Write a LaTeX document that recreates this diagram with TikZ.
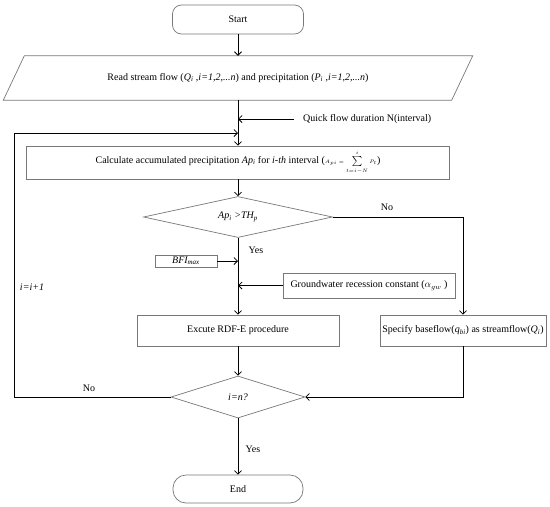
\documentclass[tikz,border=0pt]{standalone}
\usepackage{fontspec}
\setmainfont{Liberation Serif}
\usetikzlibrary{arrows.meta,shapes.geometric,calc}
\definecolor{boxgray}{RGB}{120,120,120}
\newcommand{\ssub}[1]{\textsubscript{#1}}
\begin{document}
\begin{tikzpicture}[x=1pt,y=-1pt,
  txt/.style={font=\fontsize{10}{12}\selectfont},
  box/.style={txt,draw=boxgray,line width=0.7pt,rectangle,inner sep=0pt,align=center},
  term/.style={box,rounded corners=9pt},
  dec/.style={txt,draw=boxgray,line width=0.7pt,diamond,inner sep=0pt,aspect=4},
  lbl/.style={txt,inner sep=0pt},
  conn/.style={draw=black,line width=0.8pt,-{Straight Barb[length=3.5pt,width=7pt]}},
  ]
\useasboundingbox (0,0) rectangle (550,507);
% nodes
\node[term,minimum width=131pt,minimum height=29pt] (start) at (238,19.5) {Start};
\node[txt,rectangle,inner sep=0pt,minimum width=448pt,minimum height=44pt] (read) at (238,78)
  {Read stream flow (\textit{Q\ssub{i}} ,\textit{i=1,2,...n}) and precipitation (\textit{P\ssub{i}} ,\textit{i=1,2,...n})};
\draw[draw=boxgray,line width=0.7pt] ([xshift=10.5pt]read.north west) -- ([xshift=10.5pt]read.north east)
  -- ([xshift=-10.5pt]read.south east) -- ([xshift=-10.5pt]read.south west) -- cycle;
\node[lbl,anchor=west] (qf) at (303,119) {Quick flow duration N(interval)};
\node[box,minimum width=423pt,minimum height=33pt] (calc) at (238,162.5)
  {Calculate accumulated precipitation \textit{Ap\ssub{i}} for \textit{i-th} interval ({\fontsize{5.5}{6}\selectfont$A_{pi}=\sum\limits_{t=i-N}^{i}P_t$})};
\node[dec,minimum width=189pt,minimum height=41pt] (d1) at (238,217) {\textit{Ap\ssub{i} >TH\ssub{p}}};
\node[box,minimum width=62pt,minimum height=12pt] (bfi) at (186,261) {\textit{BFI\ssub{max}}};
\node[box,minimum width=172pt,minimum height=25pt] (gw) at (369,285.5) {Groundwater recession constant ($\alpha_{gw}$ )};
\node[box,minimum width=202pt,minimum height=31pt] (rdf) at (238,330.5) {Excute RDF-E procedure};
\node[box,minimum width=166pt,minimum height=31pt] (spec) at (463,330.5) {Specify baseflow(\textit{q\ssub{bi}}) as streamflow(\textit{Q\ssub{i}})};
\node[dec,minimum width=134pt,minimum height=42pt] (d2) at (238,397) {\textit{i=n?}};
\node[term,rounded corners=13pt,minimum width=130pt,minimum height=28pt] (end) at (238,489) {End};
% labels
\node[lbl] (no1) at (387,207) {No};
\node[lbl] (yes1) at (256,250) {Yes};
\node[lbl] (no2) at (89,388) {No};
\node[lbl] (inc) at (32,287) {\textit{i=i+1}};
\node[lbl] (yes2) at (253,449) {Yes};
% junctions
\coordinate (j1) at (238,119);
\coordinate (j2) at (238,133);
\coordinate (jb) at (238,261);
\coordinate (jg) at (238,285.5);
\coordinate (rt) at (463,217);
\coordinate (rb) at (463,397);
\coordinate (lb) at (14,397);
\coordinate (lt) at (14,133);
% connectors
\draw[conn] (start.south) -- (read.north);
\draw[conn] (read.south) -- (calc.north);
\draw[conn] ([xshift=-9pt]qf.west) -- (j1);
\draw[conn] (d2.west) -- (lb) -- (lt) -- (j2);
\draw[conn] (calc.south) -- (d1.north);
\draw[conn] (d1.south) -- (rdf.north);
\draw[conn] (bfi.east) -- (jb);
\draw[conn] (gw.west) -- (jg);
\draw[conn] (d1.east) -- (rt) -- (spec.north);
\draw[conn] (rdf.south) -- (d2.north);
\draw[conn] (spec.south) -- (rb) -- (d2.east);
\draw[conn] (d2.south) -- (end.north);
\end{tikzpicture}
\end{document}
